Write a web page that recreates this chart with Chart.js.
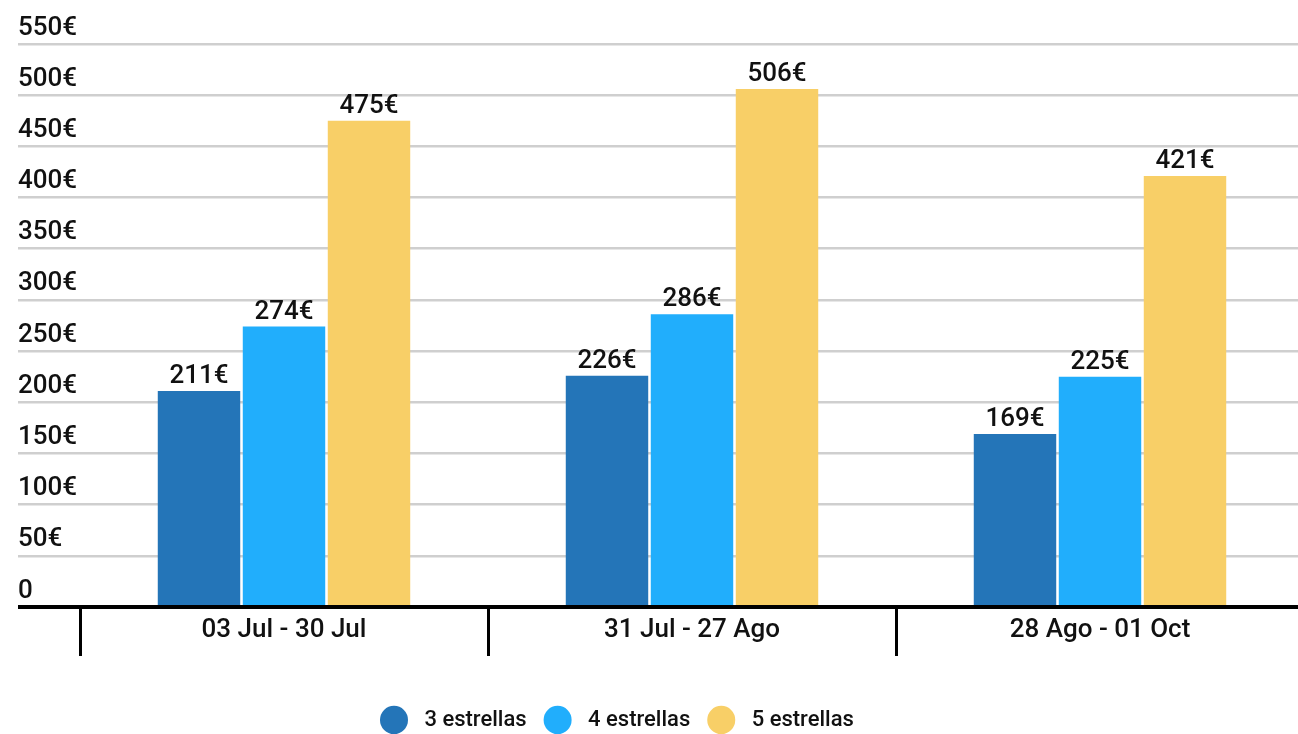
<!DOCTYPE html>
<html>
<head>
<meta charset="utf-8">
<script src="https://cdn.jsdelivr.net/npm/chart.js@4/dist/chart.umd.min.js"></script>
<style>
  html, body { margin: 0; padding: 0; overflow: hidden; background: #fff; }
  #wrap { width: 1304px; height: 741px; }
</style>
</head>
<body>
<div id="wrap"><canvas id="chart" width="1304" height="741"></canvas></div>
<script>
const periods = ['03 Jul - 30 Jul', '31 Jul - 27 Ago', '28 Ago - 01 Oct'];
const seriesNames = ['3 estrellas', '4 estrellas', '5 estrellas'];
const tresEstrellas = [211, 226, 169];
const cuatroEstrellas = [274, 286, 225];
const cincoEstrellas = [475, 506, 421];
const yTickLabels = ['0', '50€', '100€', '150€', '200€', '250€', '300€', '350€', '400€', '450€', '500€', '550€'];
const colors = ['#2475b8', '#21aefc', '#f8cf67'];

Chart.defaults.font.family = 'Roboto';
Chart.defaults.color = '#111';

// etiquetas encima de cada barra
const valueLabels = {
  id: 'valueLabels',
  afterDatasetsDraw(chart) {
    const ctx = chart.ctx;
    ctx.save();
    ctx.font = '500 26px Roboto';
    ctx.fillStyle = '#111';
    ctx.textAlign = 'center';
    ctx.textBaseline = 'alphabetic';
    chart.data.datasets.forEach((ds, i) => {
      chart.getDatasetMeta(i).data.forEach((bar, j) => {
        ctx.fillText(ds.data[j] + '€', bar.x, bar.y - 8);
      });
    });
    ctx.restore();
  }
};

// la leyenda no va centrada en el original
const legendShift = {
  id: 'legendShift',
  afterLayout(chart) {
    chart.legend.left = 363;
  }
};

const series = [tresEstrellas, cuatroEstrellas, cincoEstrellas];

new Chart(document.getElementById('chart'), {
  type: 'bar',
  data: {
    labels: periods,
    datasets: series.map((data, i) => ({
      label: seriesNames[i],
      data: data,
      backgroundColor: colors[i],
      borderWidth: 0,
      barPercentage: 0.97,
      categoryPercentage: 0.625
    }))
  },
  options: {
    responsive: false,
    animation: false,
    events: [],
    layout: { padding: { left: 18, top: 44, right: 0, bottom: 0 } },
    scales: {
      x: {
        offset: true,
        border: { display: true, color: '#000', width: 4, z: 1 },
        grid: { offset: true, drawOnChartArea: false, color: '#000', lineWidth: 3, tickLength: 49 },
        ticks: { padding: -41, color: '#111', font: { size: 26, weight: '500' }, maxRotation: 0, autoSkip: false },
        afterFit: s => { s.height = 85; }
      },
      y: {
        min: 0,
        max: 550,
        border: { display: false },
        grid: {
          color: c => c.tick && c.tick.value === 0 ? '#000' : '#cfcfcf',
          lineWidth: c => c.tick && c.tick.value === 0 ? 4 : 2.5,
          tickLength: 62
        },
        ticks: {
          stepSize: 50,
          autoSkip: false,
          crossAlign: 'far',
          labelOffset: -16,
          padding: 0,
          color: '#111',
          font: { size: 26, weight: '500' },
          callback: (v, i) => yTickLabels[i]
        },
        afterFit: s => { s.width = 62; }
      }
    },
    plugins: {
      tooltip: { enabled: false },
      legend: {
        position: 'bottom',
        align: 'start',
        labels: {
          usePointStyle: true,
          pointStyle: 'circle',
          pointStyleWidth: 28,
          boxHeight: 20,
          padding: 17,
          color: '#111',
          font: { size: 22, weight: '500' },
          // un poco de aire entre el círculo y el texto
          generateLabels: chart => Chart.defaults.plugins.legend.labels.generateLabels(chart)
            .map(item => Object.assign(item, { text: ' ' + item.text }))
        }
      }
    }
  },
  plugins: [valueLabels, legendShift]
});
</script>
</body>
</html>
